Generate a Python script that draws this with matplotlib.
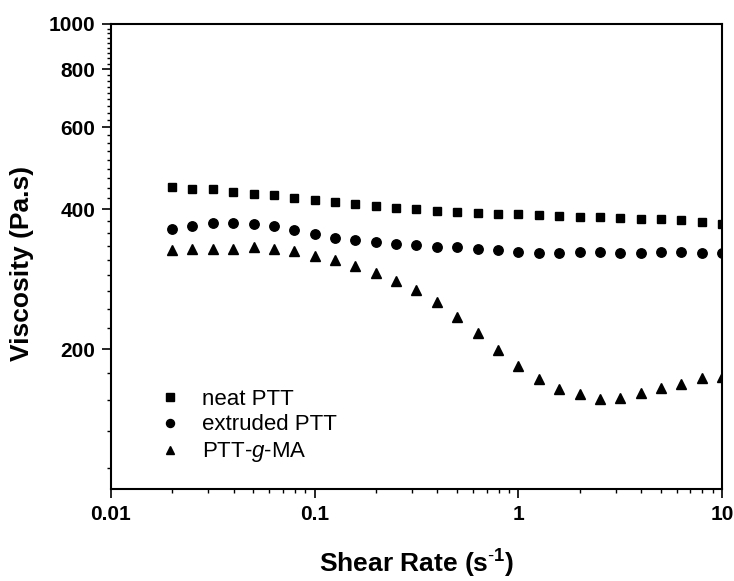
import numpy as np
import matplotlib
matplotlib.use("Agg")
import matplotlib.pyplot as plt
from matplotlib.ticker import FixedLocator, NullFormatter, FixedFormatter

plt.rcParams['font.family'] = ['Liberation Sans', 'DejaVu Sans']
plt.rcParams['mathtext.fontset'] = 'custom'
plt.rcParams['mathtext.rm'] = 'Liberation Sans'
plt.rcParams['mathtext.it'] = 'Liberation Sans:italic'
plt.rcParams['mathtext.bf'] = 'Liberation Sans:bold'

# shear rate (s^-1), 10 points per decade
shear_rate = [0.0200, 0.0251, 0.0316, 0.0398, 0.0501, 0.0631, 0.0794,
              0.100, 0.126, 0.158, 0.200, 0.251, 0.316, 0.398, 0.501,
              0.631, 0.794, 1.00, 1.26, 1.58, 2.00, 2.51, 3.16, 3.98,
              5.01, 6.31, 7.94, 10.0]

# viscosity (Pa.s)
neat_ptt = [446, 442, 442, 436, 432, 429, 423, 418, 414, 411, 406, 403, 400, 397,
            395, 393, 391, 390, 389, 387, 385, 384, 383, 381, 380, 378, 376, 371]
extruded_ptt = [362, 368, 373, 373, 371, 367, 361, 353, 346, 343, 340, 336, 335, 332,
                331, 328, 327, 324, 322, 322, 323, 323, 322, 322, 323, 323, 322, 322]
ptt_g_ma = [327, 329, 329, 329, 331, 328, 325, 317, 311, 302, 291, 280, 268, 252,
            234, 216, 199, 184, 172, 164, 160, 156, 157, 161, 165, 168, 173, 174]

fig = plt.figure(figsize=(7.34, 5.81), dpi=100)
ax = fig.add_axes([0.1512, 0.1583, 0.8325, 0.8004])

ax.plot(shear_rate, neat_ptt, 's', color='black', ms=6.3, label='neat PTT')
ax.plot(shear_rate, extruded_ptt, 'o', color='black', ms=6.8, label='extruded PTT')
ax.plot(shear_rate, ptt_g_ma, '^', color='black', ms=7.6, label='PTT-$\\mathit{g}$-MA')

ax.set_xscale('log')
ax.set_yscale('log')
ax.set_xlim(0.01, 10)
ax.set_ylim(100, 1000)

ax.xaxis.set_major_locator(FixedLocator([0.01, 0.1, 1, 10]))
ax.xaxis.set_major_formatter(FixedFormatter(['0.01', '0.1', '1', '10']))
ax.xaxis.set_minor_locator(FixedLocator([m * d for d in [0.01, 0.1, 1] for m in range(2, 10)]))
ax.xaxis.set_minor_formatter(NullFormatter())

ax.yaxis.set_major_locator(FixedLocator([200, 400, 600, 800, 1000]))
ax.yaxis.set_major_formatter(FixedFormatter(['200', '400', '600', '800', '1000']))
ax.yaxis.set_minor_locator(FixedLocator([200 + k * 200 / 9 for k in range(-4, 37) if k % 9 != 0]))
ax.yaxis.set_minor_formatter(NullFormatter())

for s in ax.spines.values():
    s.set_linewidth(1.5)
ax.tick_params(which='major', direction='out', length=6.5, width=1.2, labelsize=15, pad=5)
ax.tick_params(which='minor', direction='out', length=3.2, width=1.0)
ax.tick_params(top=False, right=False, which='both')
for lab in ax.get_xticklabels() + ax.get_yticklabels():
    lab.set_fontweight('bold')

ax.set_xlabel('Shear Rate (s$^{\\mathbf{\\text{-}1}}$)', fontsize=19, fontweight='bold')
ax.xaxis.set_label_coords(0.5, -0.126)
ax.set_ylabel('Viscosity (Pa.s)', fontsize=19, fontweight='bold')
ax.yaxis.set_label_coords(-0.126, 0.486)

ax.legend(loc='lower left', bbox_to_anchor=(0.045, 0.01), frameon=False, numpoints=1,
          fontsize=16, handlelength=1.0, handletextpad=0.95, labelspacing=0.22,
          markerscale=0.85)

fig.savefig('out.png', dpi=100)
